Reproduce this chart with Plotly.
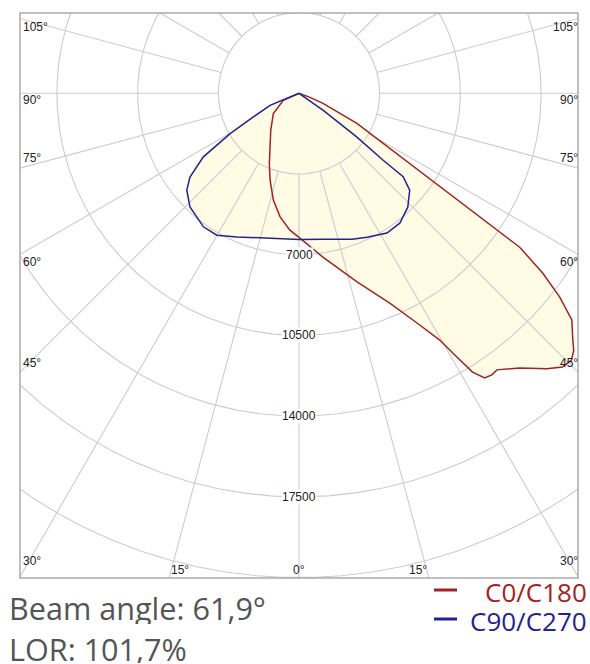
import numpy as np
import plotly.graph_objects as go

# ---------------- data ----------------
# C0 half (right side, big lobe): angle from nadir (deg) -> intensity (cd)
C0_ANGLES = [0, 4.5, 8.3, 17.1, 23.4, 27.2, 29.7, 30.9, 31.9, 33.1, 34.4, 35.6, 38.8,
             42.0, 43.9, 45.6, 46.9, 48.0, 50.3, 52.0, 53.6, 55.1, 62.6, 67.4, 70.0, 90]
C0_VALUES = [6250, 6700, 7180, 8560, 9910, 11200, 12320, 13330, 14240, 14740, 14800, 14750, 15280,
             16070, 16480, 16540, 16320, 15980, 15380, 14350, 13130, 11670, 2830, 1130, 510, 0]
# C180 half (left side)
C180_ANGLES = [0, 3.8, 8.7, 13.5, 18.4, 22.9, 28.4, 37.4, 51.7, 65.9, 90]
C180_VALUES = [6250, 5950, 5420, 4765, 3972, 3305, 2642, 2018, 1418, 745, 0]
# C90 half (right side)
C90_ANGLES = [0, 9.3, 15, 20, 25.3, 32.2, 37.8, 43.7, 48.8, 51.3, 51.5, 52.9, 55.0, 90]
C90_VALUES = [6340, 6410, 6550, 6730, 6900, 7160, 7130, 6830, 6380, 5790, 4665, 3135, 1285, 0]
# C270 half (left side)
C270_ANGLES = [0, 11.3, 23.4, 30.1, 35.6, 43.8, 49.2, 52.5, 56.4, 59.7, 62.6, 67.5, 90]
C270_VALUES = [6340, 6420, 6785, 7110, 7120, 6830, 6430, 5960, 4980, 3460, 2230, 1360, 0]

RING_VALUES = [3500, 7000, 10500, 14000, 17500, 21000, 24500]
RING_LABELS = ["7000", "10500", "14000", "17500"]
RADIAL_ANGLES = list(range(0, 360, 15))
SIDE_ANGLE_LABELS = [105, 90, 75, 60, 45, 30]
BOTTOM_ANGLE_LABELS = [15, 0]

SERIES_NAMES = ["C0/C180", "C90/C270"]
BEAM_TEXT = "Beam angle: 61,9°"
LOR_TEXT = "LOR: 101,7%"

# ---------------- styles ----------------
W, H = 590, 664
ML, MR, MT, MB = 20, 12, 13, 86
PW, PH = W - ML - MR, H - MT - MB
XMAX = 12100
YTOP, YBOT = 3483, -21020

RED = "#a02424"
BLUE = "#23238f"
FILL = "#fffbe4"
GRID = "#cccccc"
FRAME = "#aaaaaa"


def half_xy(angles, values, side):
    a = np.radians(np.asarray(angles, float))
    v = np.asarray(values, float)
    return side * v * np.sin(a), -v * np.cos(a)


def closed_curve(left_a, left_v, right_a, right_v):
    lx, ly = half_xy(left_a, left_v, -1)
    rx, ry = half_xy(right_a, right_v, 1)
    x = np.concatenate([lx[::-1], rx])
    y = np.concatenate([ly[::-1], ry])
    return x, y


red_x, red_y = closed_curve(C180_ANGLES, C180_VALUES, C0_ANGLES, C0_VALUES)
blue_x, blue_y = closed_curve(C270_ANGLES, C270_VALUES, C90_ANGLES, C90_VALUES)

fig = go.Figure()

# fills first
for cx, cy in [(red_x, red_y), (blue_x, blue_y)]:
    fig.add_trace(go.Scatter(x=cx, y=cy, mode="lines", fill="toself", fillcolor=FILL,
                             line=dict(width=0, color=FILL), hoverinfo="skip"))

# grid: rings + radial lines
gx, gy = [], []
t = np.linspace(0, 2 * np.pi, 721)
for r in RING_VALUES:
    gx += list(r * np.sin(t)) + [None]
    gy += list(r * np.cos(t)) + [None]
for a in RADIAL_ANGLES:
    ar = np.radians(a)
    r0, r1 = RING_VALUES[0], 40000
    gx += [r0 * np.sin(ar), r1 * np.sin(ar), None]
    gy += [-r0 * np.cos(ar), -r1 * np.cos(ar), None]
fig.add_trace(go.Scatter(x=gx, y=gy, mode="lines", line=dict(color=GRID, width=1.1),
                         hoverinfo="skip"))

# curve outlines
fig.add_trace(go.Scatter(x=red_x, y=red_y, mode="lines", name=SERIES_NAMES[0],
                         line=dict(color=RED, width=1.5)))
fig.add_trace(go.Scatter(x=blue_x, y=blue_y, mode="lines", name=SERIES_NAMES[1],
                         line=dict(color=BLUE, width=1.5)))

ann = []
small_font = dict(family="Liberation Sans, Arial, sans-serif", size=12, color="#222222")

# ring labels
for lab in RING_LABELS:
    ann.append(dict(x=0, y=-float(lab), xref="x", yref="y", text=lab, showarrow=False,
                    font=small_font, bgcolor="white", borderpad=0,
                    xanchor="center", yanchor="middle"))

# side angle labels
side_shift = {105: -8, 90: -7, 75: 10, 60: -8, 45: 9, 30: 16}
for a in SIDE_ANGLE_LABELS:
    yb = -XMAX / np.tan(np.radians(a))
    for side in (-1, 1):
        ann.append(dict(x=side * XMAX, y=yb, xref="x", yref="y", text=f"{a}°",
                        showarrow=False, font=small_font,
                        xanchor="left" if side < 0 else "right", yanchor="middle",
                        xshift=1 if side < 0 else 2, yshift=side_shift[a]))

# bottom angle labels
for a in BOTTOM_ANGLE_LABELS:
    xb = -YBOT * np.tan(np.radians(a))
    sides = (-1, 1) if a != 0 else (1,)
    for side in sides:
        ann.append(dict(x=side * xb, y=YBOT, xref="x", yref="y", text=f"{a}°",
                        showarrow=False, font=small_font, xanchor="center", yanchor="middle",
                        xshift=(-side * 11) if a != 0 else 0, yshift=8))


def pxx(px):
    return (px - ML) / PW


def pxy(py):
    return (MT + PH - py) / PH


big_font = dict(family="Open Sans, sans-serif", size=30.6, color="#555555")
ann.append(dict(x=pxx(7), y=pxy(608), xref="paper", yref="paper", text=BEAM_TEXT,
                showarrow=False, font=big_font, xanchor="left", yanchor="middle", height=32))
ann.append(dict(x=pxx(7), y=pxy(649), xref="paper", yref="paper", text=LOR_TEXT,
                showarrow=False, font=big_font, xanchor="left", yanchor="middle", height=28))

leg_colors = [RED, BLUE]
leg_y = [592, 621]
shapes = [dict(type="rect", xref="paper", yref="paper", x0=0, x1=1, y0=0, y1=1,
               line=dict(color=FRAME, width=1.5), layer="above")]
for name, col, yy in zip(SERIES_NAMES, leg_colors, leg_y):
    shapes.append(dict(type="line", xref="paper", yref="paper", x0=pxx(434), x1=pxx(457),
                       y0=pxy(yy - 2), y1=pxy(yy - 2), line=dict(color=col, width=3)))
    ann.append(dict(x=pxx(589), y=pxy(yy), xref="paper", yref="paper", text=name,
                    showarrow=False, xanchor="right", yanchor="middle", height=26,
                    font=dict(family="Open Sans, sans-serif", size=26, color=col)))

fig.update_layout(
    width=W, height=H, margin=dict(l=ML, r=MR, t=MT, b=MB, pad=0),
    paper_bgcolor="white", plot_bgcolor="white", showlegend=False,
    xaxis=dict(range=[-XMAX, XMAX], visible=False, fixedrange=True),
    yaxis=dict(range=[YBOT, YTOP], visible=False, fixedrange=True),
    annotations=ann, shapes=shapes,
)

fig.write_html("out.html", config={"displayModeBar": False, "staticPlot": True},
               post_script="document.body.style.margin='0';document.body.style.overflow='hidden';")
